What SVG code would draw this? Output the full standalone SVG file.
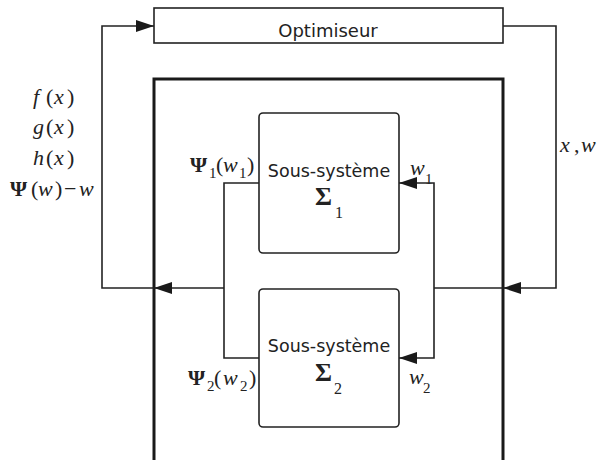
<svg xmlns="http://www.w3.org/2000/svg" width="602" height="460" viewBox="0 0 602 460">
<style>
  .ln{fill:none;stroke:#222;stroke-width:1.6}
  .thick{fill:none;stroke:#1a1a1a;stroke-width:3}
  .box{fill:#fff;stroke:#222;stroke-width:1.6}
  .sans{font-family:"DejaVu Sans","Liberation Sans",sans-serif;fill:#222}
  .m{font-family:"Liberation Serif","DejaVu Serif",serif;font-size:22px;fill:#222}
  .i{font-style:italic}
  .b{font-weight:bold}
  .s{font-size:15px}
</style>
<defs>
  <marker id="arr" viewBox="0 0 18 12" refX="18" refY="6" markerWidth="18" markerHeight="12" markerUnits="userSpaceOnUse" orient="auto">
    <path d="M0,0 L18,6 L0,12 Z" fill="#1a1a1a"/>
  </marker>
</defs>

<g id="frame">
  <path class="thick" d="M154,462 V79 H503 V462"/>
</g>

<g id="optimiseur">
  <rect class="box" x="154" y="8" width="349" height="35"/>
  <text class="sans" x="328" y="37" font-size="18" text-anchor="middle">Optimiseur</text>
</g>

<g id="sous-systeme-1">
  <rect class="box" x="259" y="113" width="140" height="140" rx="4"/>
  <text class="sans" x="329" y="177" font-size="17.5" text-anchor="middle">Sous-système</text>
  <text class="m"><tspan x="315" y="205" class="b" font-size="26">Σ</tspan><tspan x="335" y="218" font-size="16">1</tspan></text>
</g>

<g id="sous-systeme-2">
  <rect class="box" x="259" y="289" width="140" height="138" rx="4"/>
  <text class="sans" x="329" y="352" font-size="17.5" text-anchor="middle">Sous-système</text>
  <text class="m"><tspan x="315" y="381" class="b" font-size="26">Σ</tspan><tspan x="334" y="394" font-size="16">2</tspan></text>
</g>

<g id="connectors">
  <path class="ln" d="M154,288 H102 V26 H154" marker-end="url(#arr)"/>
  <path class="ln" d="M224,288 H154" marker-end="url(#arr)"/>
  <path class="ln" d="M503,26 H556 V288 H503" marker-end="url(#arr)"/>
  <path class="ln" d="M503,288 H434"/>
  <path class="ln" d="M434,288 V183 H399" marker-end="url(#arr)"/>
  <path class="ln" d="M434,288 V358 H399" marker-end="url(#arr)"/>
  <path class="ln" d="M259,183 H224 V358 H259"/>
</g>

<g id="labels">
  <text class="m" y="104"><tspan x="33" class="i">f</tspan><tspan x="46">(</tspan><tspan x="54" class="i">x</tspan><tspan x="67">)</tspan></text>
  <text class="m" y="134"><tspan x="33" class="i">g</tspan><tspan x="46">(</tspan><tspan x="54" class="i">x</tspan><tspan x="67">)</tspan></text>
  <text class="m" y="165"><tspan x="33" class="i">h</tspan><tspan x="46">(</tspan><tspan x="54" class="i">x</tspan><tspan x="67">)</tspan></text>
  <text class="m" y="196"><tspan x="10" class="b">Ψ</tspan><tspan x="31">(</tspan><tspan x="38" class="i">w</tspan><tspan x="55">)</tspan><tspan x="64">−</tspan><tspan x="79" class="i">w</tspan></text>

  <text class="m"><tspan x="190" y="172" class="b">Ψ</tspan><tspan x="209" y="178" class="s">1</tspan><tspan x="216" y="172">(</tspan><tspan x="223" y="172" class="i">w</tspan><tspan x="239" y="178" class="s">1</tspan><tspan x="247" y="172">)</tspan></text>
  <text class="m"><tspan x="188" y="385" class="b">Ψ</tspan><tspan x="207" y="391" class="s">2</tspan><tspan x="214" y="385">(</tspan><tspan x="223" y="385" class="i">w</tspan><tspan x="240" y="391" class="s">2</tspan><tspan x="249" y="385">)</tspan></text>

  <text class="m"><tspan x="410" y="175" class="i">w</tspan><tspan x="425" y="184" class="s">1</tspan></text>
  <text class="m"><tspan x="409" y="384" class="i">w</tspan><tspan x="423" y="393" class="s">2</tspan></text>
  <text class="m" y="152"><tspan x="560" class="i">x</tspan><tspan x="574">,</tspan><tspan x="581" class="i">w</tspan></text>
</g>
</svg>
